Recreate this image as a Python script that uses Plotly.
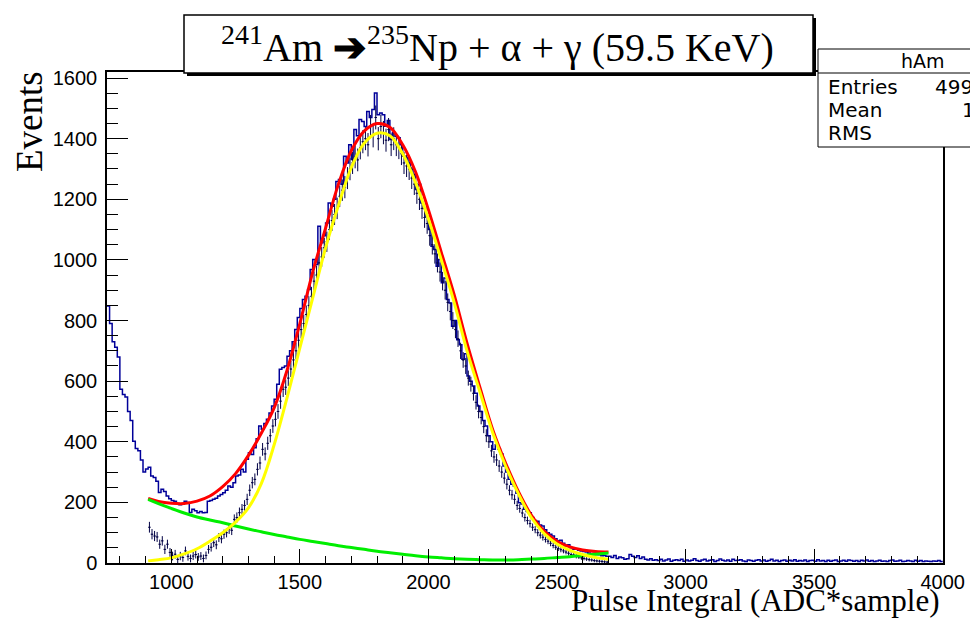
import numpy as np
import plotly.graph_objects as go

# ---------------- data ----------------
BIN_START = 750
BIN_WIDTH = 10

# hAm histogram contents, one value per 10-unit bin from 750 to 4000
hist_counts = [
    848, 790, 730, 712, 680, 573, 556, 548, 500, 470,          # 750
    402, 378, 370, 340, 300, 310, 316, 287, 282, 270,          # 850
    233, 243, 236, 221, 212, 206, 204, 196, 192, 194,          # 950
    204, 200, 167, 177, 172, 166, 170, 166, 167, 204,          # 1050
    206, 210, 214, 221, 226, 232, 240, 254, 250, 265,          # 1150
    287, 290, 309, 300, 342, 364, 358, 380, 410, 452,          # 1250
    441, 460, 474, 495, 518, 540, 590, 639, 645, 650,          # 1350
    682, 700, 730, 770, 810, 840, 869, 880, 902, 968,          # 1450
    1001, 985, 1111, 1057, 1080, 1122, 1188, 1177, 1200, 1259,  # 1550
    1265, 1250, 1342, 1320, 1380, 1331, 1430, 1410, 1463, 1457,  # 1650
    1440, 1490, 1470, 1496, 1551, 1479, 1485, 1479, 1441, 1460,  # 1750
    1397, 1420, 1408, 1403, 1380, 1342, 1337, 1320, 1300, 1282,  # 1850
    1232, 1250, 1188, 1170, 1144, 1100, 1045, 1034, 979, 1001,   # 1950
    925, 940, 869, 858, 781, 800, 737, 720, 672, 690,          # 2050
    617, 600, 584, 560, 518, 500, 470, 452, 420, 400,          # 2150
    375, 390, 375, 360, 320, 300, 276, 260, 254, 230,          # 2250
    199, 195, 177, 170, 166, 150, 140, 138, 125, 122,          # 2350
    110, 100, 95, 89, 80, 73, 75, 65, 56, 60,                  # 2450
    50, 45, 47, 42, 40, 38, 36, 33, 30, 32,                    # 2550
    28, 27, 24, 25, 22, 22, 18, 25, 15, 20,                    # 2650
    17, 12, 14, 28, 22, 18, 24, 15, 20, 12,                    # 2750
    10, 14, 9, 11, 8, 12, 7, 10, 13, 6,                        # 2850
    9, 11, 8, 12, 6, 10, 7, 9, 14, 8,                          # 2950
    6, 10, 12, 7, 9, 11, 5, 8, 13, 9,                          # 3050
    7, 10, 6, 12, 8, 9, 11, 7, 5, 10,                          # 3150
    8, 6, 9, 11, 7, 10, 6, 8, 12, 7,                           # 3250
    9, 5, 8, 10, 6, 9, 7, 11, 6, 8,                            # 3350
    7, 10, 5, 8, 9, 6, 11, 7, 8, 5,                            # 3450
    9, 6, 8, 10, 5, 7, 9, 6, 10, 8,                            # 3550
    6, 8, 5, 9, 7, 10, 6, 8, 5, 7,                             # 3650
    9, 6, 7, 5, 8, 10, 6, 7, 9, 5,                             # 3750
    6, 8, 7, 5, 9, 6, 8, 5, 7, 6,                              # 3850
    5, 7, 6, 8, 5,                                             # 3950
]

# background-subtracted points (drawn with error bars), bins from 910 to 2700
SUB_START = 910
sub_counts = [
    118, 95, 89, 86,                                           # 910
    62, 73, 45, 62, 35, 23, 29, 12, 23, 18,                    # 950
    40, 22, 15, 23, 28, 20, 23, 15, 25, 45,                    # 1050
    52, 67, 60, 84, 80, 95, 100, 112, 108, 144,                # 1150
    150, 166, 177, 190, 210, 240, 265, 276, 309, 330,          # 1250
    375, 360, 395, 420, 452, 474, 500, 534, 573, 580,          # 1350
    610, 640, 670, 700, 735, 770, 790, 820, 850, 880,          # 1450
    930, 950, 990, 1010, 1040, 1060, 1100, 1130, 1150, 1170,   # 1550
    1210, 1230, 1240, 1270, 1300, 1320, 1340, 1330, 1370, 1390,  # 1650
    1400, 1380, 1440, 1410, 1470, 1400, 1440, 1420, 1395, 1430,  # 1750
    1380, 1400, 1380, 1370, 1350, 1320, 1310, 1300, 1270, 1250,  # 1850
    1220, 1200, 1170, 1140, 1120, 1080, 1050, 1020, 990, 960,    # 1950
    930, 900, 860, 830, 800, 770, 740, 700, 670, 650,          # 2050
    610, 590, 560, 530, 500, 480, 450, 420, 400, 370,          # 2150
    350, 340, 320, 300, 280, 260, 240, 225, 210, 190,          # 2250
    180, 165, 150, 140, 130, 118, 110, 100, 92, 85,            # 2350
    78, 72, 65, 58, 52, 48, 44, 40, 36, 32,                    # 2450
    28, 26, 22, 20, 17, 15, 13, 11, 10, 8,                     # 2550
    7, 6, 5, 4, 3,                                             # 2650
]

# fitted functions
fit_x = [910, 950, 1000, 1050, 1100, 1150, 1200, 1250, 1300, 1350, 1400, 1450,
         1500, 1550, 1600, 1650, 1700, 1750, 1800, 1850, 1900, 1950, 2000, 2050,
         2100, 2150, 2200, 2250, 2300, 2350, 2400, 2450, 2500, 2550, 2600, 2650, 2700]
fit_total = [213, 203, 197, 196, 204, 221, 252, 295, 355, 428, 512, 635,
             790, 960, 1105, 1250, 1360, 1425, 1450, 1438, 1380, 1290, 1165, 1025,
             885, 725, 580, 440, 330, 235, 158, 105, 72, 53, 43, 38, 36]
fit_signal = [7, 11, 17, 30, 47, 72, 100, 135, 182, 262, 390, 545,
              710, 875, 1040, 1180, 1305, 1385, 1418, 1410, 1350, 1255, 1135, 1000,
              860, 700, 565, 430, 320, 228, 150, 97, 63, 42, 28, 18, 12]
fit_background = [210, 196, 180, 165, 152, 142, 133, 122, 112, 103, 94, 86,
                  78, 71, 64, 57, 51, 45, 39, 34, 29, 24, 20, 17,
                  14, 12, 11, 10, 10, 11, 13, 15, 18, 21, 25, 29, 33]

X_RANGE = [750, 4000]
Y_RANGE = [0, 1620]

# ---------------- geometry helpers ----------------
W, H = 970, 618
ML, MR, MT, MB = 107, 27, 72, 55
PW, PH = W - ML - MR, H - MT - MB


def px(xp):
    return (xp - ML) / PW


def py(yp):
    return (H - MB - yp) / PH


# ---------------- traces ----------------
edges = BIN_START + BIN_WIDTH * np.arange(len(hist_counts) + 1)
step_y = list(hist_counts) + [hist_counts[-1]]

fig = go.Figure()

fig.add_trace(go.Scatter(
    x=edges, y=step_y, mode="lines", line_shape="hv",
    line=dict(color="#000099", width=1.5), showlegend=False, hoverinfo="skip"))

sub_x = SUB_START + BIN_WIDTH * (np.arange(len(sub_counts)) + 0.5)
hist_lookup = {BIN_START + BIN_WIDTH * i: c for i, c in enumerate(hist_counts)}
sub_err = [np.sqrt(hist_lookup[SUB_START + BIN_WIDTH * i]) for i in range(len(sub_counts))]
fig.add_trace(go.Scatter(
    x=sub_x, y=sub_counts, mode="markers",
    marker=dict(size=1, color="#000044"),
    error_y=dict(type="data", array=sub_err, color="#000044", thickness=1, width=0),
    error_x=dict(type="constant", value=BIN_WIDTH / 2, color="#000044", thickness=1, width=0),
    showlegend=False, hoverinfo="skip"))

fig.add_trace(go.Scatter(x=fit_x, y=fit_total, mode="lines", line_shape="spline",
                         line=dict(color="#ff0000", width=3), showlegend=False))
fig.add_trace(go.Scatter(x=fit_x, y=fit_background, mode="lines", line_shape="spline",
                         line=dict(color="#00ee00", width=3), showlegend=False))
fig.add_trace(go.Scatter(x=fit_x, y=fit_signal, mode="lines", line_shape="spline",
                         line=dict(color="#ffff00", width=3), showlegend=False))

# ---------------- layout ----------------
tickfont = dict(family="Liberation Sans, Arial, sans-serif", size=20, color="black")
fig.update_layout(
    template="none",
    width=W, height=H,
    margin=dict(l=ML, r=MR, t=MT, b=MB, pad=0),
    paper_bgcolor="white", plot_bgcolor="white",
    showlegend=False,
)
fig.update_xaxes(range=[X_RANGE[0], X_RANGE[1] + 1], tick0=0, dtick=500,
                 ticks="inside", ticklen=14, tickwidth=1.2, tickcolor="black",
                 minor=dict(dtick=100, tick0=0, ticks="inside", ticklen=7,
                            tickwidth=1.2, tickcolor="black", showgrid=False),
                 showline=True, linecolor="black", linewidth=1.5, mirror=True,
                 showgrid=False, zeroline=False, tickfont=tickfont)
fig.update_yaxes(range=Y_RANGE, tick0=0, dtick=200,
                 ticks="inside", ticklen=21, tickwidth=1.2, tickcolor="black",
                 minor=dict(dtick=50, tick0=0, ticks="inside", ticklen=11,
                            tickwidth=1.2, tickcolor="black", showgrid=False),
                 showline=True, linecolor="black", linewidth=1.5, mirror=True,
                 showgrid=False, zeroline=False, tickfont=tickfont, ticklabelstandoff=4)

serif = "Liberation Serif, Times New Roman, serif"
sans = "DejaVu Sans, Liberation Sans, sans-serif"

shapes = [
    # title box with shadow
    dict(type="rect", xref="paper", yref="paper", x0=px(187), x1=px(816), y0=py(76), y1=py(18),
         fillcolor="black", line=dict(width=0), layer="above"),
    dict(type="rect", xref="paper", yref="paper", x0=px(184), x1=px(813), y0=py(73), y1=py(15),
         fillcolor="white", line=dict(color="black", width=1.5), layer="above"),
    # stats box
    dict(type="rect", xref="paper", yref="paper", x0=px(818), x1=px(1040), y0=py(147), y1=py(49),
         fillcolor="white", line=dict(color="black", width=1), layer="above"),
    dict(type="line", xref="paper", yref="paper", x0=px(818), x1=px(1040), y0=py(73), y1=py(73),
         line=dict(color="black", width=1), layer="above"),
]
fig.update_layout(shapes=shapes)

ann = [
    dict(text="<sup>241</sup>Am <b>➔</b><sup>235</sup>Np + α + γ (59.5 KeV)",
         x=px(497), y=py(45), xanchor="center", yanchor="middle",
         font=dict(family=serif, size=40, color="black")),
    dict(text="Events", x=px(30), y=py(122), xanchor="center", yanchor="middle",
         textangle=-90, font=dict(family=serif, size=37, color="black")),
    dict(text="Pulse Integral (ADC*sample)", x=px(941), y=py(600), xanchor="right",
         yanchor="middle", font=dict(family=serif, size=31, color="black")),
    dict(text="hAm", x=px(923), y=py(61), xanchor="center", yanchor="middle",
         font=dict(family=sans, size=19, color="black")),
    dict(text="Entries", x=px(826), y=py(87), xanchor="left", yanchor="middle",
         font=dict(family=sans, size=20, color="black")),
    dict(text="Mean", x=px(826), y=py(110), xanchor="left", yanchor="middle",
         font=dict(family=sans, size=20, color="black")),
    dict(text="RMS", x=px(826), y=py(133), xanchor="left", yanchor="middle",
         font=dict(family=sans, size=20, color="black")),
    dict(text="49985", x=px(933), y=py(87), xanchor="left", yanchor="middle",
         font=dict(family=sans, size=20, color="black")),
    dict(text="1801", x=px(960), y=py(110), xanchor="left", yanchor="middle",
         font=dict(family=sans, size=20, color="black")),
]
for a in ann:
    a.update(xref="paper", yref="paper", showarrow=False)
fig.update_layout(annotations=ann)

fig.write_html("out.html")
